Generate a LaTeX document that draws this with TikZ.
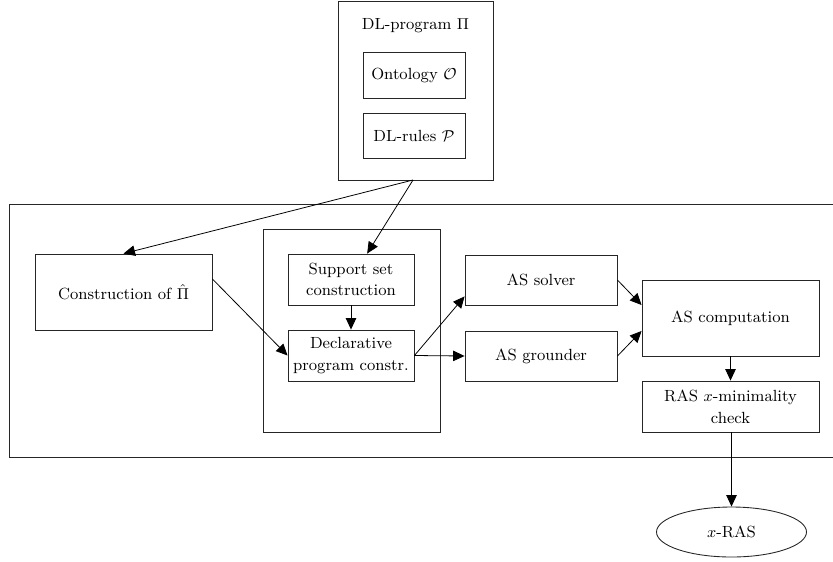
\documentclass[tikz,border=0pt]{standalone}
\usetikzlibrary{arrows.meta,shapes.geometric}
\begin{document}
\begin{tikzpicture}[
    every node/.style={font=\fontsize{9.2}{12.3}\selectfont},
    blk/.style={draw=black!85, line width=0.5pt, align=center, inner sep=2pt},
    frm/.style={draw=black!85, line width=0.5pt},
    arr/.style={-{Triangle[length=2.3mm,width=2.1mm]}, line width=0.45pt}
  ]
    \useasboundingbox (0,0) rectangle (16.66,-11.22);
    % outer frames
    \draw[frm] (6.76,-0.02) rectangle (9.86,-3.6);
    \draw[frm] (0.18,-4.08) rectangle (17.2,-9.14);
    \draw[frm] (5.26,-4.58) rectangle (8.8,-8.64);
    \node (title) at (8.31,-0.52) {DL-program $\Pi$};
    \coordinate (prog) at (8.26,-3.6);
    % input program
    \node[blk, minimum width=2.04cm, minimum height=0.92cm] (onto) at (8.28,-1.5) {Ontology $\mathcal{O}$};
    \node[blk, minimum width=2.04cm, minimum height=0.9cm] (rules) at (8.28,-2.71) {DL-rules $\mathcal{P}$};
    % pipeline
    \node[blk, minimum width=3.54cm, minimum height=1.52cm] (constr) at (2.47,-5.84) {Construction of $\hat{\Pi}$};
    \node[blk, minimum width=2.52cm, minimum height=1.02cm] (supp) at (7.02,-5.59) {Support set\\construction};
    \node[blk, minimum width=2.52cm, minimum height=1.02cm] (decl) at (7.02,-7.11) {Declarative\\program constr.};
    \node[blk, minimum width=3.04cm, minimum height=1.0cm] (solver) at (10.82,-5.6) {AS solver};
    \node[blk, minimum width=3.04cm, minimum height=1.0cm] (grounder) at (10.82,-7.12) {AS grounder};
    \node[blk, minimum width=3.54cm, minimum height=1.52cm] (comp) at (14.61,-6.36) {AS computation};
    \node[blk, minimum width=3.54cm, minimum height=1.02cm] (check) at (14.61,-8.13) {RAS $x$-minimality\\check};
    \node[draw=black!85, ellipse, line width=0.5pt, minimum width=3.0cm, minimum height=1.0cm] (ras) at (14.63,-10.64) {$x$-RAS};
    % connectors
    \draw[arr] (prog) -- (constr.north);
    \draw[arr] (prog) -- (supp);
    \draw[arr] ([yshift=0.26cm]constr.east) -- (decl.west);
    \draw[arr] (supp) -- (decl);
    \draw[arr] (decl.east) -- ([yshift=0.18cm]solver.south west);
    \draw[arr] (decl.east) -- (grounder.west);
    \draw[arr] (solver.east) -- ([yshift=0.26cm]comp.west);
    \draw[arr] (grounder.east) -- ([yshift=-0.26cm]comp.west);
    \draw[arr] (comp) -- (check);
    \draw[arr] (check.south -| ras.north) -- (ras.north);
\end{tikzpicture}
\end{document}
